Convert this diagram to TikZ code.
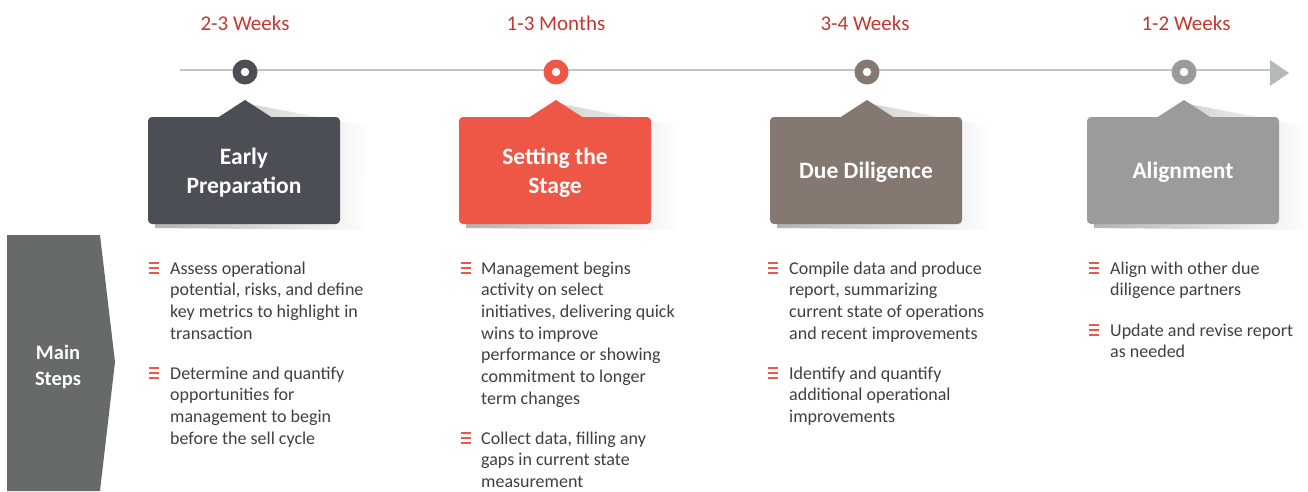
\documentclass[tikz,border=0pt]{standalone}
\usepackage{fontspec}
\setmainfont{Carlito}
\definecolor{cA}{HTML}{4B4F55}
\definecolor{cB}{HTML}{EE5645}
\definecolor{cC}{HTML}{857870}
\definecolor{cD}{HTML}{9A9C9C}
\definecolor{dur}{HTML}{C8352F}
\definecolor{txt}{HTML}{3F3F3F}
\definecolor{lineg}{HTML}{C2C5C5}
\definecolor{arrg}{HTML}{B4B9B9}
\definecolor{mainc}{HTML}{676A6A}
\tikzset{
  durlabel/.style={text=dur, font=\fontsize{21}{24}\selectfont, anchor=center},
  stepbox/.style={rounded corners=4pt, minimum width=192pt, minimum height=107pt, inner sep=0pt},
  steptitle/.style={inner sep=0pt, text=white, align=center, font=\fontsize{23.5}{29}\selectfont\bfseries},
  dotc/.style={circle, minimum size=25pt, inner sep=0pt},
  btext/.style={anchor=base west, inner sep=0pt, text=txt, font=\fontsize{18}{21.7}\selectfont},
}
\newcommand\bulicon[2]{%
  \fill[cB] (#1-4.8,#2-6.3) rectangle (#1+4.8,#2-3.6);
  \fill[cB] (#1-4.8,#2-1.35) rectangle (#1+4.8,#2+1.35);
  \fill[cB] (#1-4.8,#2+3.6) rectangle (#1+4.8,#2+6.3);}
\newcommand\lines[1]{\begin{tabular}[t]{@{}l@{}}#1\end{tabular}}
\newcommand\stepitem[4]{% x, color, name, title
  \shade[left color=black!30, right color=white] (#1+5,104) -- (#1+125,127) -- (#1+120,230) -- (#1-90,228) -- (#1-90,119) -- (#1-20,119) -- cycle;
  \fill[#2] (#1-27,117.5) -- (#1,100) -- (#1+27,117.5) -- cycle;
  \node[stepbox, fill=#2] (#3) at (#1-1,170.5) {};
  \node[steptitle] (#3t) at ([yshift=-2pt]#3.center) {#4};
  \node[dotc, fill=#2] (#3dot) at (#1,72) {};
  \fill[white] (#3dot) circle (4.2pt);}
\begin{document}
\begin{tikzpicture}[x=1pt,y=-1pt]
\useasboundingbox (0,0) rectangle (1308,491);
% timeline
\coordinate (tl) at (180,70);
\coordinate (tipw) at (1270,70);
\coordinate (tipe) at (1289,73);
\fill[arrg] (1270,60) -- (tipe) -- (1270,86) -- cycle;
\draw[lineg, line width=1.3pt] (tl) -- (tipw);
% steps
\stepitem{245}{cA}{s1}{Early\\Preparation}
\stepitem{556}{cB}{s2}{Setting the\\Stage}
\stepitem{867}{cC}{s3}{Due Diligence}
\stepitem{1184}{cD}{s4}{Alignment}
% durations
\node[durlabel] (d1) at (245,23) {2-3 Weeks};
\node[durlabel] (d2) at (556,23) {1-3 Months};
\node[durlabel] (d3) at (865,23) {3-4 Weeks};
\node[durlabel] (d4) at (1186,23) {1-2 Weeks};
% main steps
\fill[mainc] (7,235) -- (100,235) -- (115,362) -- (100,491) -- (7,491) -- cycle;
\node[text=white, align=center, font=\fontsize{20.5}{26}\selectfont\bfseries] (main) at (58,367) {Main\\Steps};
% column 1
\bulicon{154}{268}
\node[btext] (t11) at (170,274) {\lines{Assess operational\\potential, risks, and define\\key metrics to highlight in\\transaction}};
\bulicon{154}{373}
\node[btext] (t12) at (170,379) {\lines{Determine and quantify\\opportunities for\\management to begin\\before the sell cycle}};
% column 2
\bulicon{466}{268}
\node[btext] (t21) at (481,274) {\lines{Management begins\\activity on select\\initiatives, delivering quick\\wins to improve\\performance or showing\\commitment to longer\\term changes}};
\bulicon{466}{438}
\node[btext] (t22) at (481,444) {\lines{Collect data, filling any\\gaps in current state\\measurement}};
% column 3
\bulicon{773}{268}
\node[btext] (t31) at (789,274) {\lines{Compile data and produce\\report, summarizing\\current state of operations\\and recent improvements}};
\bulicon{773}{373}
\node[btext] (t32) at (789,379) {\lines{Identify and quantify\\additional operational\\improvements}};
% column 4
\bulicon{1094}{268}
\node[btext] (t41) at (1110,274) {\lines{Align with other due\\diligence partners}};
\bulicon{1094}{330}
\node[btext] (t42) at (1110,336) {\lines{Update and revise report\\as needed}};
\end{tikzpicture}
\end{document}
